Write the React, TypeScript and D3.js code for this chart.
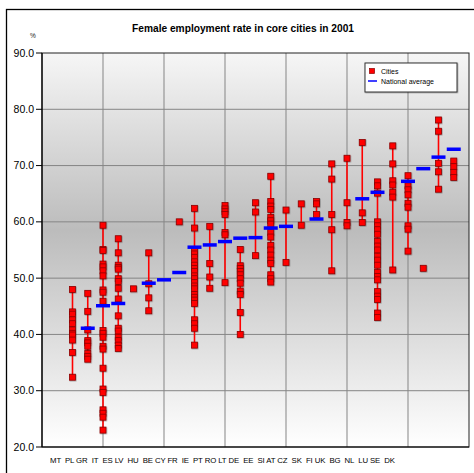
import React from 'react';
import * as d3 from 'd3';

const countries = ['MT','PL','GR','IT','ES','LV','HU','BE','CY','FR','IE','PT','RO','LT','DE','EE','SI','AT','CZ','SK','FI','UK','BG','NL','LU','SE','DK'];

const nationalAverage: (number | null)[] = [
  null, null, 41.1, 45.1, 45.5, null, 49.1, 49.7, 51.0, 55.5, 55.9, 56.5, 57.1, 57.2,
  58.9, 59.2, null, 60.5, null, null, 64.1, 65.25, null, 67.2, 69.45, 71.5, 72.9,
];

const cityRates: number[][] = [
  [],
  [48.0, 44.0, 43.6, 42.6, 41.9, 40.8, 40.2, 39.9, 39.0, 36.8, 32.4],
  [47.3, 44.1, 40.8, 38.9, 38.5, 37.9, 36.6, 36.1, 35.6],
  [59.4, 55.1, 54.9, 52.5, 52.0, 51.3, 50.4, 47.9, 47.5, 45.9, 40.7, 40.2, 39.5, 37.9, 37.4, 34.0, 30.3, 29.7, 26.6, 26.0, 25.3, 23.0],
  [57.0, 54.5, 52.3, 51.9, 51.6, 49.9, 49.4, 48.2, 46.3, 43.3, 41.1, 40.6, 39.5, 38.9, 38.1, 37.5],
  [48.1],
  [54.5, 49.0, 46.5, 44.2],
  [],
  [60.0],
  [62.4, 58.9, 54.9, 54.3, 53.7, 52.9, 52.3, 51.7, 51.2, 50.4, 49.9, 49.2, 48.6, 48.1, 47.1, 46.6, 46.1, 45.5, 42.6, 41.9, 41.1, 38.1],
  [59.2, 52.6, 50.2, 48.2],
  [62.9, 62.3, 61.8, 61.3, 58.1, 57.7, 49.2],
  [55.1, 52.2, 51.7, 51.2, 50.6, 49.9, 49.1, 47.7, 47.1, 43.9, 40.0],
  [63.4, 61.75, 54.0],
  [68.1, 63.6, 62.8, 62.2, 60.8, 60.2, 59.6, 58.1, 57.3, 55.8, 55.0, 54.1, 53.2, 52.6, 50.6, 49.9, 49.3],
  [62.1, 52.8],
  [63.2, 59.4],
  [63.6, 63.2, 61.3],
  [70.3, 67.6, 61.3, 58.6, 51.3],
  [71.3, 63.4, 59.9, 59.3],
  [74.1, 61.6, 59.9],
  [67.1, 66.4, 65.1, 60.0, 59.3, 58.6, 57.8, 56.5, 55.7, 55.0, 53.9, 53.2, 52.3, 51.0, 50.3, 49.7, 47.6, 46.8, 46.2, 43.8, 43.0],
  [73.5, 70.3, 67.3, 66.55, 65.25, 64.4, 51.45],
  [68.2, 66.4, 65.7, 64.8, 63.3, 62.6, 59.3, 58.7, 54.8],
  [51.75],
  [78.1, 76.1, 70.4, 68.9, 65.8],
  [70.8, 69.8, 68.8, 67.9],
];

const yTicks = [20, 30, 40, 50, 60, 70, 80, 90];
const xGridTicks = [4, 8, 12, 16, 20, 24];
// category label row as it appears under the axis (one text box)
const xLabelText = 'MT  PL GR  IT  ES LV  HU  BE CY FR  IE  PT RO LT DE  EE  SI AT CZ  SK  FI UK  BG  NL  LU SE  DK';

const FONT = 'Arial, "Liberation Sans", sans-serif';

export default function App() {
  const left = 42, right = 469, top = 53, bottom = 447;
  const x = d3.scaleLinear().domain([0, 28]).range([left, right]);
  const y = d3.scaleLinear().domain([20, 90]).range([bottom, top]);
  const sq = 6;
  const avgHalf = 7;

  return (
    <svg width={474} height={473} style={{ position: 'absolute', left: 0, top: 0, background: '#fff' }} fontFamily={FONT}>
      <defs>
        <linearGradient id="bg" x1="0" y1="0" x2="0" y2="1">
          <stop offset="0" stopColor="#f6f6f6" />
          <stop offset="0.45" stopColor="#bcbcbc" />
          <stop offset="1" stopColor="#ffffff" />
        </linearGradient>
        <filter id="sh" x="-50%" y="-50%" width="200%" height="200%">
          <feDropShadow dx="0.6" dy="0.6" stdDeviation="0.7" floodColor="#000" floodOpacity="0.35" />
        </filter>
      </defs>
      <rect x={6.5} y={9.5} width={500} height={500} fill="#fff" stroke="#000" strokeWidth={1.3} />
      <text x={243} y={32} textAnchor="middle" fontSize={10.2} fontWeight="bold" fill="#000">
        Female employment rate in core cities in 2001
      </text>
      <text x={33} y={38} textAnchor="middle" fontSize={6.5} fill="#222">%</text>

      <rect x={left} y={top} width={right - left} height={bottom - top} fill="url(#bg)" />
      {yTicks.filter(t => t > 20 && t < 90).map(t => (
        <line key={'hg' + t} x1={left} x2={right} y1={y(t)} y2={y(t)} stroke="#858585" strokeWidth={1} />
      ))}
      {xGridTicks.map(t => (
        <line key={'vg' + t} x1={x(t)} x2={x(t)} y1={top} y2={bottom} stroke="#858585" strokeWidth={1} />
      ))}
      <rect x={left} y={top} width={right - left} height={bottom - top} fill="none" stroke="#222" strokeWidth={1} />
      <line x1={left} x2={left} y1={top} y2={bottom} stroke="#000" strokeWidth={1.2} />
      <line x1={left} x2={right} y1={bottom} y2={bottom} stroke="#000" strokeWidth={1.2} />
      {yTicks.map(t => (
        <g key={'yt' + t}>
          <line x1={left - 6} x2={left} y1={y(t)} y2={y(t)} stroke="#000" strokeWidth={1} />
          <text x={34} y={y(t) + 3.6} textAnchor="end" fontSize={10.5} fill="#000">{t.toFixed(1)}</text>
        </g>
      ))}

      {cityRates.map((vals, i) => {
        if (vals.length < 2) return null;
        const pos = i + 1;
        return (
          <line key={'rl' + i} x1={x(pos)} x2={x(pos)} y1={y(d3.max(vals)!)} y2={y(d3.min(vals)!)} stroke="#ff0000" strokeWidth={1.6} />
        );
      })}
      {cityRates.map((vals, i) => (
        <g key={'pts' + i} filter="url(#sh)">
          {vals.map((v, j) => (
            <rect key={j} x={x(i + 1) - sq / 2} y={y(v) - sq / 2} width={sq} height={sq} fill="#ff0000" stroke="#8b0000" strokeWidth={0.8} />
          ))}
        </g>
      ))}
      {nationalAverage.map((v, i) => v == null ? null : (
        <line key={'na' + i} x1={x(i + 1) - avgHalf} x2={x(i + 1) + avgHalf} y1={y(v)} y2={y(v)} stroke="#0000ff" strokeWidth={3.5} />
      ))}

      <text x={50} y={463} fontSize={7.8} fill="#000" textLength={345} lengthAdjust="spacing" style={{ whiteSpace: 'pre' }} xmlSpace="preserve">
        {xLabelText}
      </text>

      <g>
        <rect x={365} y={63} width={92} height={29} fill="#fff" stroke="#333" strokeWidth={1} filter="url(#sh)" />
        <rect x={369.5} y={68.5} width={5} height={5} fill="#ff0000" stroke="#8b0000" strokeWidth={0.7} />
        <text x={381} y={73.5} fontSize={7} fill="#000">Cities</text>
        <line x1={368} x2={377} y1={81} y2={81} stroke="#0000ff" strokeWidth={1.5} />
        <text x={381} y={84} fontSize={7} fill="#000">National average</text>
      </g>
    </svg>
  );
}
